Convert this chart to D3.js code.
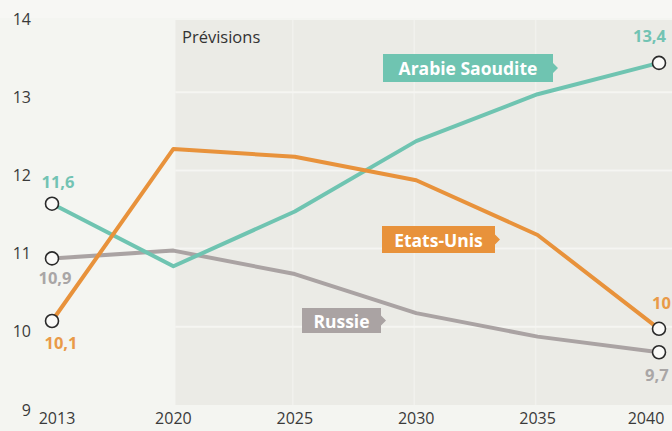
<!DOCTYPE html>
<html><head><meta charset="utf-8">
<script src="https://cdn.jsdelivr.net/npm/d3@7"></script>
<style>
html,body{margin:0;padding:0;background:#f4f5f1;}
svg{display:block;font-family:"Open Sans","DejaVu Sans",sans-serif;}
</style></head>
<body>
<svg id="c" width="672" height="431"></svg>
<script>
const years = ["2013","2020","2025","2030","2035","2040"];
const saudi = [11.6, 10.8, 11.5, 12.4, 13.0, 13.4];
const usa   = [10.1, 12.3, 12.2, 11.9, 11.2, 10.0];
const russia= [10.9, 11.0, 10.7, 10.2, 9.9, 9.7];
const yTicks = [9, 10, 11, 12, 13, 14];
const seriesNames = ["Arabie Saoudite", "Etats-Unis", "Russie"];
const startLabels = ["11,6", "10,1", "10,9"];
const endLabels = ["13,4", "10", "9,7"];
const forecastLabel = "Prévisions";

const W = 672, H = 431;
const svg = d3.select("#c");
const x = d3.scalePoint().domain(years).range([52, 659]);
const y = d3.scaleLinear().domain([9, 14]).range([407, 16]);

// background
svg.append("rect").attr("width", W).attr("height", H).attr("fill", "#f4f5f1");
svg.append("rect").attr("x", 0).attr("y", 0).attr("width", W).attr("height", 18).attr("fill", "#f7f7f4");
// forecast shaded zone
const fx0 = x("2020") + 2;
svg.append("rect").attr("x", fx0).attr("y", 20).attr("width", W - fx0).attr("height", 385).attr("fill", "#ebebe6");
// faint grid in forecast zone
svg.append("g").selectAll("line").data(yTicks.filter(d => d > 9 && d < 14)).join("line")
  .attr("x1", fx0).attr("x2", W).attr("y1", d => y(d) - 2).attr("y2", d => y(d) - 2)
  .attr("stroke", "#f8f8f5").attr("stroke-width", 2).attr("opacity", 0.8);
svg.append("g").selectAll("line").data(["2025","2030","2035"]).join("line")
  .attr("x1", d => x(d) - 2).attr("x2", d => x(d) - 2).attr("y1", 20).attr("y2", 405)
  .attr("stroke", "#f6f6f3").attr("stroke-width", 1.5).attr("opacity", 0.6);

// y tick labels
svg.append("g").selectAll("text").data(yTicks).join("text")
  .attr("x", 31).attr("y", d => y(d) + 3).attr("dy", "0.35em")
  .attr("text-anchor", "end").attr("font-size", 16).attr("fill", "#3a3a3a")
  .text(d => d);

// x tick labels
svg.append("g").selectAll("text").data(years).join("text")
  .attr("x", (d, i) => x(d) + (i === 0 ? 5 : i === years.length - 1 ? -13 : 0))
  .attr("y", 418).attr("dy", "0.35em")
  .attr("text-anchor", "middle").attr("font-size", 16).attr("fill", "#3a3a3a")
  .text(d => d);

// forecast label
svg.append("text").attr("x", 182).attr("y", 37).attr("dy", "0.35em")
  .attr("font-size", 16.5).attr("fill", "#333").text(forecastLabel);

const colors = ["#6fc4b1", "#e8923b", "#aaa3a3"];
const labelColors = ["#72c3b3", "#e99a48", "#a9a6a6"];
const data = [saudi, usa, russia];

const line = d3.line().x((d, i) => x(years[i])).y(d => y(d));

// draw in order: russia, saudi, usa
[2, 0, 1].forEach(k => {
  svg.append("path").datum(data[k]).attr("d", line)
    .attr("fill", "none").attr("stroke", colors[k]).attr("stroke-width", 4)
    .attr("stroke-linejoin", "round");
});

// end circles
data.forEach((s, k) => {
  [0, s.length - 1].forEach(i => {
    svg.append("circle").attr("cx", x(years[i])).attr("cy", y(s[i])).attr("r", 6.5)
      .attr("fill", "#fafaf8").attr("stroke", "#2a2a2a").attr("stroke-width", 1.6);
  });
});

// value labels
const startOff = [-21, 22, 20];
const startDx = [6, 9, 3];
data.forEach((s, k) => {
  svg.append("text").attr("x", x(years[0]) + startDx[k]).attr("y", y(s[0]) + startOff[k]).attr("dy", "0.35em")
    .attr("text-anchor", "middle").attr("font-size", 16.5).attr("font-weight", "bold")
    .attr("fill", labelColors[k]).text(startLabels[k]);
});
const endOff = [-27, -26, 23];
const endDx = [-26, -7, -14];
data.forEach((s, k) => {
  const n = s.length - 1;
  svg.append("text").attr("x", x(years[n]) + endDx[k]).attr("y", y(s[n]) + endOff[k]).attr("dy", "0.35em")
    .attr("font-size", 16.5).attr("font-weight", "bold")
    .attr("fill", labelColors[k]).text(endLabels[k]);
});

// series tags (rect with right pointer)
const tagPos = [[383, 54, 170, 28], [382, 226, 113, 27], [302, 308, 79, 25]];
seriesNames.forEach((name, k) => {
  const [tx, ty, tw, th] = tagPos[k];
  const g = svg.append("g");
  const mid = ty + th / 2;
  g.append("path")
    .attr("d", `M${tx},${ty}H${tx + tw}V${mid - 5}L${tx + tw + 5},${mid}L${tx + tw},${mid + 5}V${ty + th}H${tx}Z`)
    .attr("fill", colors[k]);
  g.append("text").attr("x", tx + tw / 2).attr("y", mid + 1).attr("dy", "0.35em")
    .attr("text-anchor", "middle").attr("font-size", 17.5).attr("font-weight", "bold")
    .attr("fill", "#ffffff").text(name);
});
</script>
</body></html>
